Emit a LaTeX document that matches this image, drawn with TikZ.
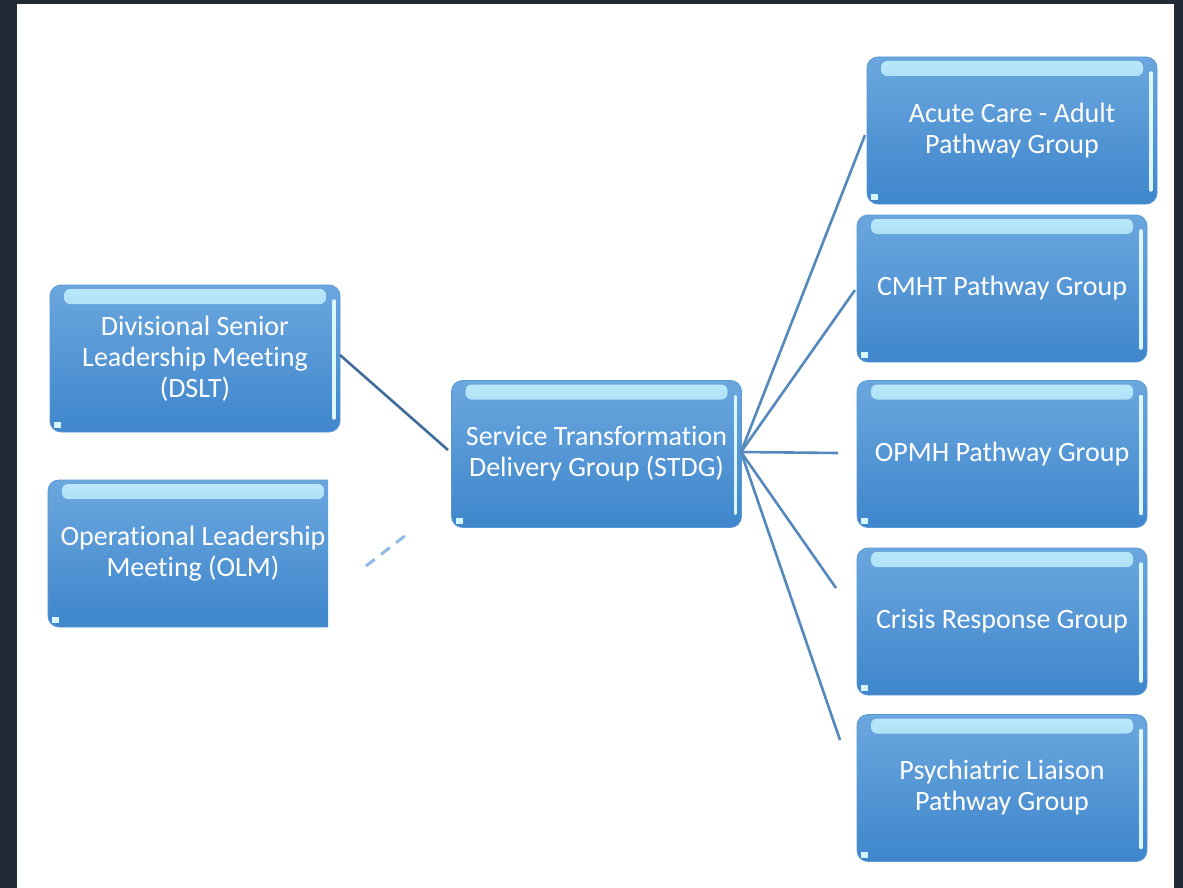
\documentclass[tikz,border=0pt]{standalone}
\usepackage{fontspec}
\setmainfont{Carlito}[Ligatures={NoCommon}]
\definecolor{frame}{HTML}{222A36}
\definecolor{boxtop}{HTML}{6BA7DE}
\definecolor{boxbot}{HTML}{3F86CC}
\definecolor{boxedge}{HTML}{5A98D6}
\definecolor{hl}{HTML}{C4F2FF}
\definecolor{conn}{HTML}{5588BC}
\definecolor{connd}{HTML}{3F6C98}
\definecolor{dashc}{HTML}{8DBBE8}
\tikzset{
  gbox/.style={rounded corners=11pt, minimum width=290pt, minimum height=147pt,
    inner sep=0pt, top color=boxtop, bottom color=boxbot, draw=boxedge, line width=0.8pt,
    text=white, align=center, font=\fontsize{28}{31}\selectfont,
    path picture={
      \shade[top color=hl, bottom color=boxtop, rounded corners=6pt, opacity=0.9]
        ([xshift=14pt,yshift=-4pt]path picture bounding box.north west) rectangle
        ([xshift=-14pt,yshift=-19pt]path picture bounding box.north east);
      \draw[hl!60!white, line width=3.5pt, line cap=round, sharp corners]
        ([xshift=-6pt,yshift=-16pt]path picture bounding box.north east) --
        ([xshift=-6pt,yshift=14pt]path picture bounding box.south east);
      \fill[hl!70!white, sharp corners]
        ([xshift=4pt,yshift=4pt]path picture bounding box.south west) rectangle
        ([xshift=11pt,yshift=10pt]path picture bounding box.south west);
    }},
  link/.style={conn, line width=2.6pt},
  linkd/.style={connd, line width=2.6pt},
  dlink/.style={dashc, line width=3pt, dash pattern=on 11pt off 8pt}
}
\begin{document}
\begin{tikzpicture}[x=1pt,y=-1pt]
\fill[frame] (0,0) rectangle (1183,888);
\fill[white] (17,4) rectangle (1174,888);
\useasboundingbox (0,0) rectangle (1183,888);

\node[gbox] (dslt) at (195,358.5) {Divisional Senior\\Leadership Meeting\\(DSLT)};
\begin{scope}
\clip (0,0) rectangle (328,888);
\node[gbox] (olm) at (193,553.5) {Operational Leadership\\Meeting (OLM)};
\end{scope}
\node[gbox] (stdg) at (596.5,454) {Service Transformation\\Delivery Group (STDG)};
\node[gbox] (acute) at (1012,130.5) {Acute Care - Adult\\Pathway Group};
\node[gbox] (cmht) at (1002,288.5) {CMHT Pathway Group};
\node[gbox] (opmh) at (1002,454) {OPMH Pathway Group};
\node[gbox] (crisis) at (1002,621.5) {Crisis Response Group};
\node[gbox] (psych) at (1002,788) {Psychiatric Liaison\\Pathway Group};

\coordinate (hub) at (741,452);
\coordinate (eacute) at (865,135);
\coordinate (ecmht) at (855,290);
\coordinate (eopmh) at (838,453);
\coordinate (ecrisis) at (836,588);
\coordinate (epsych) at (840,740);
\coordinate (dslte) at (340,355);
\coordinate (stdgw) at (448,450);
\coordinate (olmd) at (366,566);
\coordinate (stdgd) at (410,532);

\draw[linkd] (dslte) -- (stdgw);
\draw[dlink] (olmd) -- (stdgd);
\draw[link] (hub) -- (eacute);
\draw[link] (hub) -- (ecmht);
\draw[link] (hub) -- (eopmh);
\draw[link] (hub) -- (ecrisis);
\draw[link] (hub) -- (epsych);
\end{tikzpicture}
\end{document}
